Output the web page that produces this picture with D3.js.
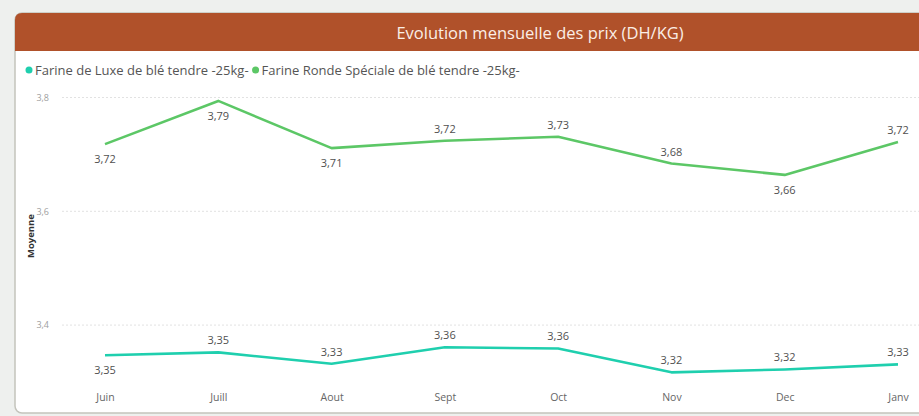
<!DOCTYPE html>
<html>
<head>
<meta charset="utf-8">
<script src="https://cdn.jsdelivr.net/npm/d3@7"></script>
<style>
    body { margin: 0; background: #eef0ee; font-family: "Open Sans", sans-serif; }
    #chart { width: 919px; height: 416px; overflow: hidden; }
</style>
</head>
<body>
<div id="chart"></div>
<script>
// données
let months = ["Juin", "Juill", "Aout", "Sept", "Oct", "Nov", "Dec", "Janv"];
let luxe = [3.347, 3.352, 3.332, 3.361, 3.359, 3.317, 3.322, 3.331];
let ronde = [3.718, 3.794, 3.711, 3.724, 3.731, 3.684, 3.664, 3.722];
let yTicks = [3.4, 3.6, 3.8];
let seriesNames = ["Farine de Luxe de blé tendre -25kg-", "Farine Ronde Spéciale de blé tendre -25kg-"];
// étiquettes sous le point (true) ou au-dessus
let luxeBelow = [true, false, false, false, false, false, false, false];
let rondeBelow = [true, true, true, false, false, false, true, false];

let width = 919, height = 416;
let colors = ["#1fcfae", "#5cc766"];

let svg = d3.select("#chart").append("svg")
    .attr("width", width)
    .attr("height", height);

// carte
svg.append("rect")
    .attr("x", 15).attr("y", 13)
    .attr("width", 1060).attr("height", 400)
    .attr("rx", 7).attr("ry", 7)
    .attr("fill", "#fff")
    .attr("stroke", "#c4c4bc")
    .attr("stroke-width", 1.5);

// entête
svg.append("path")
    .attr("d", "M15,51 L15,20 Q15,13 22,13 L1075,13 L1075,51 Z")
    .attr("fill", "#b0512a");

svg.append("text")
    .attr("x", 540).attr("y", 39)
    .attr("text-anchor", "middle")
    .attr("fill", "#fbeee6")
    .style("font-size", "16.5px")
    .text("Evolution mensuelle des prix (DH/KG)");

// légende
let legend = svg.append("g").attr("transform", "translate(29,70)");
let lx = 0;
seriesNames.forEach((name, i) => {
    legend.append("circle").attr("cx", lx).attr("cy", 0).attr("r", 3.5).attr("fill", colors[i]);
    let t = legend.append("text")
        .attr("x", lx + 6).attr("y", 4.5)
        .attr("fill", "#555")
        .style("font-size", "13px")
        .text(name);
    lx += t.node().getComputedTextLength() + 13;
});

// échelles
let x = d3.scalePoint().domain(months).range([105, 898]);
let y = d3.scaleLinear().domain([3.3, 3.8]).range([382, 97.5]);

// grille
svg.append("g")
    .selectAll("line")
    .data(yTicks)
    .join("line")
    .attr("x1", 62).attr("x2", width)
    .attr("y1", d => y(d)).attr("y2", d => y(d))
    .attr("stroke", "#e2e2e2")
    .attr("stroke-width", 1)
    .attr("stroke-dasharray", "2,2");

// axe y
let fmt1 = d => d.toFixed(1).replace(".", ",");
let yAxis = svg.append("g")
    .attr("transform", "translate(52,0)")
    .call(d3.axisLeft(y).tickValues(yTicks).tickFormat(fmt1).tickSize(0));
yAxis.select(".domain").remove();
yAxis.selectAll("text")
    .attr("fill", "#a0a0a0")
    .style("font-size", "9px")
    .style("font-family", "Open Sans");

svg.append("text")
    .attr("transform", "translate(34,236) rotate(-90)")
    .attr("text-anchor", "middle")
    .attr("fill", "#333")
    .style("font-size", "9.5px")
    .style("font-weight", "bold")
    .text("Moyenne");

// axe x
let xAxis = svg.append("g")
    .attr("transform", "translate(0,391)")
    .call(d3.axisBottom(x).tickSize(0));
xAxis.select(".domain").remove();
xAxis.selectAll("text")
    .attr("fill", "#666")
    .style("font-size", "10.5px")
    .style("font-family", "Open Sans");

// lignes
let fmt2 = d => d.toFixed(2).replace(".", ",");
let line = d3.line().x((d, i) => x(months[i])).y(d => y(d));

[[luxe, luxeBelow], [ronde, rondeBelow]].forEach(([vals, below], k) => {
    svg.append("path")
        .datum(vals)
        .attr("d", line)
        .attr("fill", "none")
        .attr("stroke", colors[k])
        .attr("stroke-width", 2.6)
        .attr("stroke-linejoin", "round");

    svg.append("g")
        .selectAll("text")
        .data(vals)
        .join("text")
        .attr("x", (d, i) => x(months[i]))
        .attr("y", (d, i) => below[i] ? y(d) + 19 : y(d) - 8)
        .attr("text-anchor", "middle")
        .attr("fill", "#505050")
        .style("font-size", "11px")
        .text(fmt2);
});
</script>
</body>
</html>
